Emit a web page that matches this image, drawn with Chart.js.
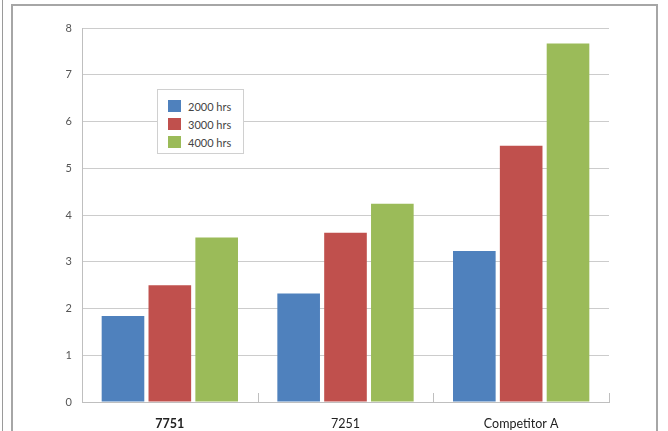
<!DOCTYPE html>
<html><head><meta charset="utf-8">
<script src="https://cdn.jsdelivr.net/npm/chart.js@4"></script>
<style>
html,body{margin:0;padding:0;background:#fff;width:668px;height:431px;overflow:hidden;}
#frame{position:absolute;left:11px;top:4px;width:647px;height:460px;border:2px solid #a6a6a6;box-sizing:border-box;}
#mark{position:absolute;left:2px;top:0;width:1px;height:431px;background:#9a9a9a;}
#wrap{position:absolute;left:0;top:0;width:668px;height:431px;}
#legend{position:absolute;left:157px;top:89px;width:87px;height:65px;border:1px solid #d0d0d0;background:#fff;box-sizing:border-box;font-family:Lato,"DejaVu Sans",sans-serif;font-size:11px;color:#444;padding-top:7px;}
#legend .it{display:flex;align-items:center;height:18px;padding-left:10px;}
#legend .sw{width:13px;height:12px;margin-right:7px;}
</style></head>
<body>
<div id="mark"></div>
<div id="frame"></div>
<div id="wrap"><canvas id="c" width="668" height="431"></canvas></div>
<div id="legend"></div>
<script>
const categories = ["7751", "7251", "Competitor A"];
const seriesNames = ["2000 hrs", "3000 hrs", "4000 hrs"];
const hrs2000 = [1.84, 2.32, 3.23];
const hrs3000 = [2.50, 3.62, 5.48];
const hrs4000 = [3.52, 4.24, 7.67];
const yTicks = [0, 1, 2, 3, 4, 5, 6, 7, 8];
const colors = ["#4F81BD", "#C0504D", "#9BBB59"];

const values = [hrs2000, hrs3000, hrs4000];

const innerTicks = {
  id: 'innerTicks',
  afterDatasetsDraw(chart) {
    const x = chart.scales.x, ctx = chart.ctx;
    const bottom = chart.chartArea.bottom;
    const w = (x.getPixelForValue(1) - x.getPixelForValue(0));
    ctx.save();
    ctx.strokeStyle = '#bfbfbf';
    ctx.lineWidth = 1;
    for (let i = 1; i <= categories.length; i++) {
      const px = Math.round(x.getPixelForValue(i - 1) + w / 2) + 0.5;
      ctx.beginPath();
      ctx.moveTo(px, bottom);
      ctx.lineTo(px, bottom - 9);
      ctx.stroke();
    }
    ctx.restore();
  }
};

new Chart(document.getElementById('c'), {
  type: 'bar',
  data: {
    labels: categories,
    datasets: seriesNames.map((n, i) => ({
      label: n,
      data: values[i],
      backgroundColor: colors[i],
      borderWidth: 0,
      categoryPercentage: 0.8,
      barPercentage: 0.91
    }))
  },
  options: {
    responsive: false,
    animation: false,
    devicePixelRatio: 1,
    layout: { padding: { left: 0, right: 59, top: 28, bottom: 0 } },
    plugins: { legend: { display: false }, tooltip: { enabled: false } },
    scales: {
      x: {
        grid: { display: false },
        border: { color: '#bfbfbf', width: 1 },
        ticks: {
          color: '#222',
          padding: 6,
          font: (ctx) => ({ family: 'Lato, "DejaVu Sans", sans-serif', size: 12.5, weight: ctx.index === 0 ? 'bold' : 'normal' })
        },
        afterFit(s) { s.height = 29; }
      },
      y: {
        min: 0, max: 8,
        afterBuildTicks(s) { s.ticks = yTicks.map(v => ({ value: v })); },
        grid: { color: '#cccccc', drawTicks: false, lineWidth: 1 },
        border: { color: '#bfbfbf', width: 1 },
        ticks: {
          color: '#555',
          padding: 10,
          font: { family: 'Lato, "DejaVu Sans", sans-serif', size: 11 }
        },
        afterFit(s) { s.width = 82; }
      }
    }
  },
  plugins: [innerTicks]
});

const lg = document.getElementById('legend');
seriesNames.forEach((n, i) => {
  const d = document.createElement('div');
  d.className = 'it';
  d.innerHTML = '<span class="sw" style="background:' + colors[i] + '"></span><span>' + n + '</span>';
  lg.appendChild(d);
});
</script>
</body></html>
